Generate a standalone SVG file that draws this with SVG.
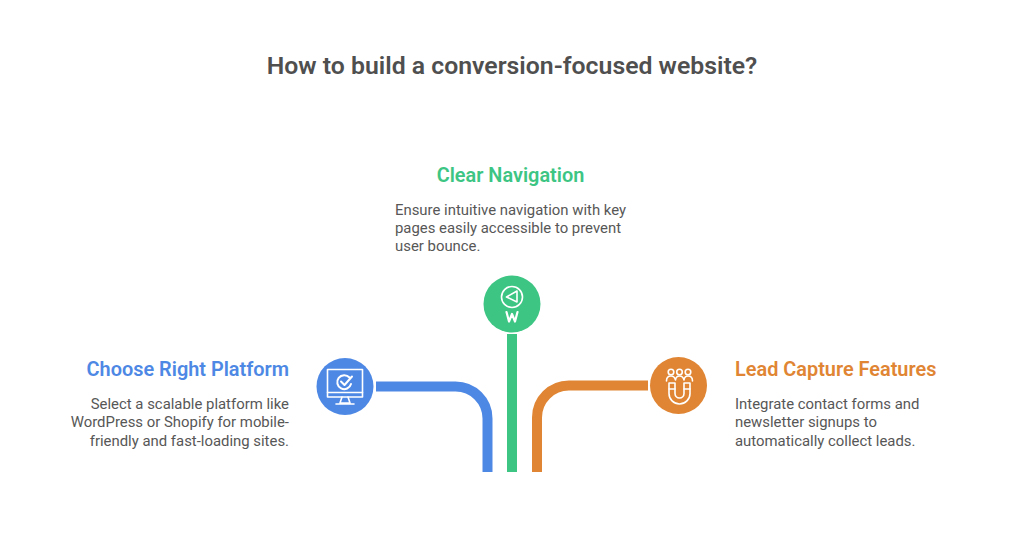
<svg xmlns="http://www.w3.org/2000/svg" width="1024" height="555" viewBox="0 0 1024 555">
<style>
text{font-family:Roboto,"Liberation Sans",sans-serif}
.t{font-size:24.8px;font-weight:600;fill:#4f4f4f}
.h{font-size:19.9px;font-weight:600}
.b{font-size:14.9px;fill:#575757}
.c{fill:none;stroke-width:10}
.i{fill:none;stroke:#fff;stroke-width:1.6;stroke-linecap:round;stroke-linejoin:round}
</style>
<rect width="1024" height="555" fill="#fff"/>
<text class="t" x="512" y="73.500" text-anchor="middle">How to build a conversion-focused website?</text>
<g id="connectors">
<path class="c" stroke="#4e88e5" d="M376 386.500H455.500A32 32 0 0 1 487.500 418.500V472"/>
<path class="c" stroke="#3cc583" d="M512 334V472"/>
<path class="c" stroke="#e08533" d="M648 385.500H569A32 32 0 0 0 537 417.500V472"/>
</g>
<g id="node-platform">
<circle cx="345" cy="386.500" r="28.500" fill="#4e88e5"/>
<rect class="i" x="327.500" y="369.500" width="35" height="27.500"/>
<path class="i" d="M327.500 392.500H362.500M342 397L340 403H350L348 397M336 404H354"/>
<path class="i" style="stroke-width:2" d="M349.500 377.500A7 7 0 1 0 351 384M341 381.500L344.500 385L352 376.500"/>
<text class="h" x="289" y="375.500" text-anchor="end" fill="#4e88e5">Choose Right Platform</text>
<text class="b" text-anchor="end"><tspan x="289" y="409">Select a scalable platform like</tspan><tspan x="289" y="427">WordPress or Shopify for mobile-</tspan><tspan x="289" y="446">friendly and fast-loading sites.</tspan></text>
</g>
<g id="node-navigation">
<circle cx="512" cy="304" r="28.500" fill="#3cc583"/>
<circle class="i" cx="512" cy="297" r="10.500"/>
<path class="i" d="M517 291L506.500 297L517 302Z"/>
<path class="i" style="stroke-width:2.200" d="M506.500 312L509 321.500L512 314L515 321.500L517.500 312"/>
<text class="h" x="510.500" y="181.500" text-anchor="middle" fill="#3cc583">Clear Navigation</text>
<text class="b"><tspan x="395" y="215">Ensure intuitive navigation with key</tspan><tspan x="395" y="233">pages easily accessible to prevent</tspan><tspan x="395" y="251">user bounce.</tspan></text>
</g>
<g id="node-lead">
<circle cx="678.500" cy="385.500" r="28.500" fill="#e08533"/>
<path class="i" d="M669 383V393.500A10.500 10.500 0 0 0 690 393.500V383H684V393.500A4.500 4.500 0 0 1 675 393.500V383Z"/>
<path class="i" d="M669 389H675M684 389H690"/>
<circle class="i" cx="671" cy="372" r="2.800"/><circle class="i" cx="679.500" cy="372" r="2.800"/><circle class="i" cx="688" cy="372" r="2.800"/>
<path class="i" d="M666.500 381Q666.500 376 671 376Q674.500 376 675.500 380M675.500 380Q676 376 679.500 376Q683 376 684 380M684 380Q684.500 376 688 376Q692.500 376 692.500 381"/>
<text class="h" x="735" y="375.500" fill="#e08533">Lead Capture Features</text>
<text class="b"><tspan x="735" y="409">Integrate contact forms and</tspan><tspan x="735" y="427">newsletter signups to</tspan><tspan x="735" y="446">automatically collect leads.</tspan></text>
</g>
</svg>
